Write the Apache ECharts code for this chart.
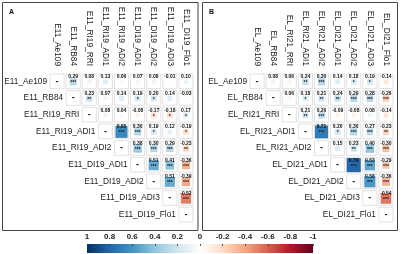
<!DOCTYPE html>
<html><head><meta charset="utf-8">
<script src="https://cdn.jsdelivr.net/npm/echarts@6/dist/echarts.min.js"></script>
<style>html,body{margin:0;padding:0;background:#fff}#c{width:400px;height:254px}</style>
</head><body><div id="c"></div>
<script>
const varsA = ['E11_Ae109','E11_RB84','E11_RI19_RRI','E11_RI19_ADI1','E11_RI19_ADI2','E11_DI19_ADI1','E11_DI19_ADI2','E11_DI19_ADI3','E11_DI19_Flo1'];
const varsB = ['EL_Ae109','EL_RB84','EL_RI21_RRI','EL_RI21_ADI1','EL_RI21_ADI2','EL_DI21_ADI1','EL_DI21_ADI2','EL_DI21_ADI3','EL_DI21_Flo1'];
// upper-triangle rows: row i lists r(i, j) for j > i
const corrA = [
 [0.29,0.08,0.13,0.06,0.07,0.08,-0.01,0.10],
 [0.23,0.07,0.14,0.19,0.20,0.14,-0.03],
 [0.08,0.04,-0.08,-0.17,-0.18,0.17],
 [0.65,0.30,0.19,0.12,-0.19],
 [0.38,0.30,0.29,-0.23],
 [0.51,0.41,-0.36],
 [0.51,-0.39],
 [-0.52]
];
const sigA = [
 ['***','','','','','','',''],
 ['**','','','*','*','',''],
 ['','','','*','*','*'],
 ['***','***','*','','*'],
 ['***','***','***','**'],
 ['***','***','***'],
 ['***','***'],
 ['***']
];
const corrB = [
 [0.08,0.06,0.24,0.30,0.14,0.18,0.19,-0.14],
 [0.06,0.18,0.21,0.24,0.29,0.28,-0.26],
 [0.21,0.26,-0.09,-0.08,0.08,-0.14],
 [0.71,0.20,0.30,0.27,-0.23],
 [0.15,0.23,0.40,-0.30],
 [0.79,0.53,-0.29],
 [0.58,-0.36],
 [-0.54]
];
const sigB = [
 ['','','**','***','','*','*',''],
 ['','*','**','**','***','***','***'],
 ['**','***','','','',''],
 ['***','*','***','***','**'],
 ['','**','***','***'],
 ['***','***','***'],
 ['***','***'],
 ['***']
];
const colorbarTicks = [1,0.8,0.6,0.4,0.2,0,-0.2,-0.4,-0.6,-0.8,-1];
const palette = ['#67001F','#B2182B','#D6604D','#F4A582','#FDDBC7','#FFFFFF','#D1E5F0','#92C5DE','#4393C3','#2166AC','#053061'];

function hex2rgb(h){return [parseInt(h.substr(1,2),16),parseInt(h.substr(3,2),16),parseInt(h.substr(5,2),16)];}
function colorFor(r){
  const t = (r+1)/2*(palette.length-1);
  const i = Math.min(palette.length-2, Math.floor(t)), f = t-i;
  const a = hex2rgb(palette[i]), b = hex2rgb(palette[i+1]);
  return 'rgb('+a.map((v,k)=>Math.round(v+(b[k]-v)*f)).join(',')+')';
}
const FONT = 'Liberation Sans, Arial, sans-serif';

function buildCells(corr, sig, n){
  const out = [];
  for (let i=0;i<n;i++){
    out.push({value:[i,i,0], diag:true, stars:''});
    if (i < n-1) corr[i].forEach((r,k)=>{ out.push({value:[i+1+k,i,r], diag:false, stars:sig[i][k]}); });
  }
  return out;
}
function makeCellSeries(idx, corr, sig, n){
  const cells = buildCells(corr, sig, n);
  return {
    type:'custom', xAxisIndex:idx, yAxisIndex:idx,
    data: cells.map(c=>c.value),
    renderItem: function(params, api){
      const cell = cells[params.dataIndex];
      const x = api.value(0), y = api.value(1), r = api.value(2);
      const c = api.coord([x,y]);
      const sz = api.size([1,1]);
      const w = sz[0], h = sz[1];
      const ch = [];
      ch.push({type:'rect', shape:{x:c[0]-w/2+1, y:c[1]-h/2+1, width:w-2, height:h-2},
        style:{fill:'#fff', stroke:'#d9d9d9', lineWidth:0.8}});
      if (cell.diag){
        ch.push({type:'text', style:{x:c[0], y:c[1], text:'-', font:'bold 9px '+FONT, fill:'#111', textAlign:'center', textVerticalAlign:'middle'}});
      } else {
        const s = Math.min(w-2, 3 + 14*Math.abs(r));
        ch.push({type:'rect', shape:{x:c[0]-s/2, y:c[1]+0.5-s/2, width:s, height:s}, style:{fill:colorFor(r)}});
        ch.push({type:'text', style:{x:c[0], y:c[1]-4.5, text:r.toFixed(2), font:'bold 5px '+FONT, fill:'#111', textAlign:'center', textVerticalAlign:'middle'}});
        if (cell.stars) ch.push({type:'text', style:{x:c[0], y:c[1]+1.5, text:cell.stars, font:'bold 5px '+FONT, fill:'#222', textAlign:'center', textVerticalAlign:'middle'}});
      }
      return {type:'group', children:ch};
    }
  };
}
function makeRowLabelSeries(idx, vars){
  return {
    type:'custom', xAxisIndex:idx, yAxisIndex:idx,
    data: vars.map((v,i)=>[i,i]),
    renderItem: function(params, api){
      const c = api.coord([api.value(0), api.value(1)]);
      const w = api.size([1,1])[0];
      return {type:'text', style:{x:c[0]-w/2-2, y:c[1], text:vars[params.dataIndex], font:'8.3px '+FONT, fill:'#222', textAlign:'right', textVerticalAlign:'middle'}};
    }
  };
}
function xAx(idx, vars){
  return {gridIndex:idx, type:'category', data:vars, position:'top',
    axisLine:{show:false}, axisTick:{show:false}, splitLine:{show:false},
    axisLabel:{rotate:90, fontSize:8.3, fontFamily:FONT, color:'#222', margin:7, interval:0}};
}
function yAx(idx, n){
  return {gridIndex:idx, type:'category', data:Array.from({length:n},(_, i)=>i), inverse:true, show:false};
}
const n = 9;
const chart = echarts.init(document.getElementById('c'), null, {renderer:'canvas'});
chart.setOption({
  animation:false,
  backgroundColor:'#fff',
  title:[
    {text:'A', left:4, top:4, textStyle:{fontSize:7, fontWeight:'bold', fontFamily:FONT, color:'#111'}},
    {text:'B', left:204, top:4, textStyle:{fontSize:7, fontWeight:'bold', fontFamily:FONT, color:'#111'}}
  ],
  graphic:[
    {type:'rect', shape:{x:2.5, y:2.5, width:195.5, height:228}, style:{fill:'none', stroke:'#444', lineWidth:1}, z:-1},
    {type:'rect', shape:{x:202.5, y:2.5, width:195, height:228}, style:{fill:'none', stroke:'#444', lineWidth:1}, z:-1}
  ],
  grid:[
    {left:49, top:73, width:145, height:150},
    {left:249, top:73, width:145, height:150},
    {left:87, top:244, width:226, height:9}
  ],
  xAxis:[
    xAx(0, varsA), xAx(1, varsB),
    {gridIndex:2, type:'value', min:-1, max:1, interval:0.2, inverse:true, position:'top', z:10,
      axisLine:{show:false}, splitLine:{show:false},
      axisTick:{show:true, inside:true, length:2, lineStyle:{color:'#333', width:0.8}},
      axisLabel:{fontSize:8, fontWeight:'bold', fontFamily:FONT, color:'#222', margin:3,
        formatter:function(v){ const t = colorbarTicks.find(x=>Math.abs(x-v)<1e-6); return t===undefined?'':String(t);} }}
  ],
  yAxis:[ yAx(0,n), yAx(1,n), {gridIndex:2, type:'category', data:['bar'], show:false} ],
  series:[
    makeCellSeries(0, corrA, sigA, n),
    makeCellSeries(1, corrB, sigB, n),
    makeRowLabelSeries(0, varsA),
    makeRowLabelSeries(1, varsB),
    {
      type:'custom', xAxisIndex:2, yAxisIndex:2, z:1,
      data:[[1,-1,0]],
      renderItem:function(params, api){
        const p1 = api.coord([api.value(0), 0]);
        const p2 = api.coord([api.value(1), 0]);
        const h = api.size([0,1])[1];
        const stops = palette.slice().reverse().map((c,i)=>({offset:i/(palette.length-1), color:c}));
        return {type:'rect', shape:{x:p1[0], y:p1[1]-h/2, width:p2[0]-p1[0], height:h},
          style:{fill:new echarts.graphic.LinearGradient(0,0,1,0,stops)}};
      }
    }
  ]
});
</script></body></html>
